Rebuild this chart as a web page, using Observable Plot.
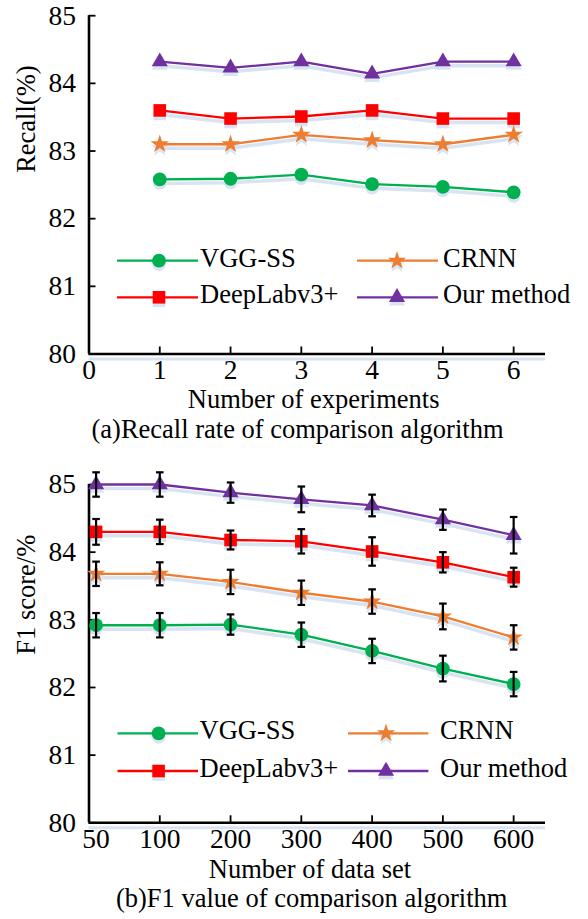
<!DOCTYPE html>
<html>
<head>
<meta charset="utf-8">
<script src="https://cdn.jsdelivr.net/npm/d3@7"></script>
<script src="https://cdn.jsdelivr.net/npm/@observablehq/plot@0.6"></script>
<style>
  html, body { margin: 0; padding: 0; background: #fff; }
  #page { position: relative; width: 588px; height: 919px; overflow: hidden;
          font-family: "Liberation Serif", "Times New Roman", serif; color: #000; }
  .chart { position: absolute; left: 0; }
  .lbl { position: absolute; white-space: nowrap; font-size: 26.5px; line-height: 1;
         transform: translateX(-50%); }
  #legendLayer { position: absolute; left: 0; top: 0; pointer-events: none; }
</style>
</head>
<body>
<div id="page"></div>
<script>
// ---------------- data ----------------
const methods = ["VGG-SS", "CRNN", "DeepLabv3+", "Our method"];

// (a) Recall (%) vs number of experiments
const experiments = [1, 2, 3, 4, 5, 6];
const experimentTicks = [0, 1, 2, 3, 4, 5, 6];
const recallVGG     = [82.58, 82.59, 82.65, 82.51, 82.47, 82.39];
const recallCRNN    = [83.10, 83.10, 83.24, 83.16, 83.10, 83.24];
const recallDeepLab = [83.60, 83.48, 83.51, 83.60, 83.48, 83.48];
const recallOurs    = [84.32, 84.23, 84.32, 84.14, 84.32, 84.32];

// (b) F1 score (%) vs number of data set
const dataSetLabels = ["50", "100", "200", "300", "400", "500", "600"];
const dataSetPos    = [0.1, 1, 2, 3, 4, 5, 6];
const f1VGG        = [82.92, 82.92, 82.93, 82.78, 82.54, 82.28, 82.05];
const f1VGGErr     = [0.18, 0.18, 0.15, 0.18, 0.18, 0.19, 0.18];
const f1CRNN       = [83.68, 83.68, 83.56, 83.40, 83.27, 83.05, 82.74];
const f1CRNNErr    = [0.18, 0.17, 0.18, 0.18, 0.18, 0.19, 0.18];
const f1DeepLab    = [84.30, 84.30, 84.18, 84.16, 84.01, 83.85, 83.63];
const f1DeepLabErr = [0.19, 0.18, 0.14, 0.18, 0.21, 0.15, 0.14];
const f1Ours       = [85.00, 85.00, 84.88, 84.78, 84.69, 84.48, 84.25];
const f1OursErr    = [0.18, 0.18, 0.15, 0.19, 0.16, 0.15, 0.27];

const yTicks = [80, 81, 82, 83, 84, 85];

// ---------------- styles ----------------
const colors  = {"VGG-SS": "#00b050", "CRNN": "#ed7d31", "DeepLabv3+": "#ff0000", "Our method": "#7030a0"};
const symbols = {"VGG-SS": "circle", "CRNN": "star", "DeepLabv3+": "square", "Our method": "triangle"};
const radii   = {"VGG-SS": 6.9, "CRNN": 5.8, "DeepLabv3+": 7.1, "Our method": 6.0};
const shadow = "#d9e4f3";
const FONT = "'Liberation Serif', 'Times New Roman', serif";
const FS = 26.5;
const TICK_FS = 27.5;
const W = 588;

const recallRows = methods.flatMap((m, i) =>
  experiments.map((e, j) => ({method: m, x: e, y: [recallVGG, recallCRNN, recallDeepLab, recallOurs][i][j]})));
const f1Rows = methods.flatMap((m, i) =>
  dataSetPos.map((p, j) => ({
    method: m, x: p,
    y: [f1VGG, f1CRNN, f1DeepLab, f1Ours][i][j],
    err: [f1VGGErr, f1CRNNErr, f1DeepLabErr, f1OursErr][i][j]
  })));

const capSymbol = {draw(ctx, size) { const w = Math.sqrt(size / Math.PI); ctx.moveTo(-w, 0); ctx.lineTo(w, 0); }};

function buildChart({rows, xTicks, xFormat, yLabel, yLabelDy, marginTop, marginBottom, withErr}) {
  const marginLeft = 88.5, marginRight = 43;
  const frameH = 338.3;
  const height = marginTop + frameH + marginBottom;
  const frameW = W - marginLeft - marginRight;
  const marks = [];
  // shadows
  marks.push(Plot.ruleY([80], {stroke: shadow, strokeWidth: 3, dy: 5}));
  for (const m of methods) {
    const d = rows.filter(r => r.method === m);
    marks.push(Plot.line(d, {x: "x", y: "y", stroke: shadow, strokeWidth: 3.5, dy: 4}));
    marks.push(Plot.dot(d, {x: "x", y: "y", symbol: symbols[m], r: radii[m], fill: shadow, dy: 3.5}));
  }
  // axis lines
  marks.push(Plot.ruleX([0], {stroke: "#000", strokeWidth: 2.6}));
  marks.push(Plot.ruleY([80], {stroke: "#000", strokeWidth: 2.6}));
  // inward ticks
  marks.push(Plot.tickY(yTicks, {y: d => d, stroke: "#000", strokeWidth: 1.8, insetRight: frameW - 7}));
  marks.push(Plot.tickX(xTicks.filter(t => t > 0.5), {x: d => d, stroke: "#000", strokeWidth: 1.8, insetTop: frameH - 7}));
  // series
  for (const m of methods) {
    const d = rows.filter(r => r.method === m);
    marks.push(Plot.line(d, {x: "x", y: "y", stroke: colors[m], strokeWidth: 2.3}));
  }
  for (const m of methods) {
    const d = rows.filter(r => r.method === m);
    marks.push(Plot.dot(d, {x: "x", y: "y", symbol: symbols[m], r: radii[m], fill: colors[m], stroke: "none"}));
  }
  if (withErr) {
    marks.push(Plot.ruleX(rows, {x: "x", y1: d => d.y - d.err, y2: d => d.y + d.err, stroke: "#000", strokeWidth: 2.2}));
    marks.push(Plot.dot(rows, {x: "x", y: d => d.y - d.err, symbol: capSymbol, r: 3.8, stroke: "#000", strokeWidth: 2.2, fill: "none"}));
    marks.push(Plot.dot(rows, {x: "x", y: d => d.y + d.err, symbol: capSymbol, r: 3.8, stroke: "#000", strokeWidth: 2.2, fill: "none"}));
  }
  // tick labels
  marks.push(Plot.axisY({ticks: yTicks, tickSize: 0, tickPadding: 13, label: null, fontSize: TICK_FS, tickFormat: d => String(d)}));
  marks.push(Plot.axisX({ticks: xTicks, tickSize: 0, tickPadding: 5.5, label: null, fontSize: TICK_FS, tickFormat: xFormat}));
  // y title
  marks.push(Plot.text([yLabel], {text: d => d, frameAnchor: "left", rotate: -90, dx: -62, dy: yLabelDy,
                                    fontSize: FS, fill: "#000"}));
  return Plot.plot({
    width: W, height, marginLeft, marginRight, marginTop, marginBottom,
    x: {domain: [0, 6.45]},
    y: {domain: [80, 85]},
    style: {fontFamily: FONT, fontSize: FS + "px", color: "#000", background: "transparent", overflow: "visible"},
    marks
  });
}

const page = document.getElementById("page");

const chartA = buildChart({
  rows: recallRows, xTicks: experimentTicks, xFormat: d => String(d),
  yLabel: "Recall(%)", yLabelDy: -12, marginTop: 15.2, marginBottom: 42, withErr: false
});
chartA.classList.add("chart"); chartA.style.top = "0px";
page.appendChild(chartA);

const chartB = buildChart({
  rows: f1Rows, xTicks: dataSetPos, xFormat: d => dataSetLabels[dataSetPos.indexOf(d)],
  yLabel: "F1 score/%", yLabelDy: 1, marginTop: 39, marginBottom: 42, withErr: true
});
chartB.classList.add("chart"); chartB.style.top = "445px";
page.appendChild(chartB);

// ---------------- text labels ----------------
function addLabel(text, cx, baseline) {
  const el = document.createElement("div");
  el.className = "lbl";
  el.textContent = text;
  el.style.left = cx + "px";
  el.style.top = (baseline - 21.9) + "px";
  page.appendChild(el);
}
addLabel("Number of experiments", 313.7, 407.5);
addLabel("(a)Recall rate of comparison algorithm", 297.5, 437.5);
addLabel("Number of data set", 310, 877.5);
addLabel("(b)F1 value of comparison algorithm", 311.7, 907);

// ---------------- legends ----------------
const svg = d3.select(page).append("svg").attr("id", "legendLayer").attr("width", W).attr("height", 919);
function legend(rowY, cols) {
  const order = [[0, 0], [1, 0], [0, 1], [1, 1]]; // [col,row]
  methods.forEach((m, i) => {
    const [c, r] = order[i];
    const col = cols[c];
    const y = rowY[r];
    const g = svg.append("g");
    const sym = d3.symbol().type({circle: d3.symbolCircle, star: d3.symbolStar, square: d3.symbolSquare, triangle: d3.symbolTriangle}[symbols[m]])
      .size(Math.PI * radii[m] * radii[m]);
    g.append("path").attr("d", sym()).attr("transform", `translate(${col.mark},${y + 3.5})`).attr("fill", shadow);
    g.append("line").attr("x1", col.x0).attr("x2", col.x1).attr("y1", y).attr("y2", y)
      .attr("stroke", colors[m]).attr("stroke-width", 2.3);
    g.append("path").attr("d", sym()).attr("transform", `translate(${col.mark},${y})`).attr("fill", colors[m]);
    g.append("text").attr("x", col.text).attr("y", y + 6).text(m)
      .attr("font-family", FONT).attr("font-size", FS).attr("fill", "#000");
  });
}
legend([260.7, 297.3], [{x0: 117, x1: 198, mark: 159, text: 200}, {x0: 357, x1: 438, mark: 397, text: 443}]);
legend([733.3, 771], [{x0: 117.5, x1: 198, mark: 158.6, text: 199.6}, {x0: 348, x1: 428.4, mark: 386, text: 440}]);
</script>
</body>
</html>
